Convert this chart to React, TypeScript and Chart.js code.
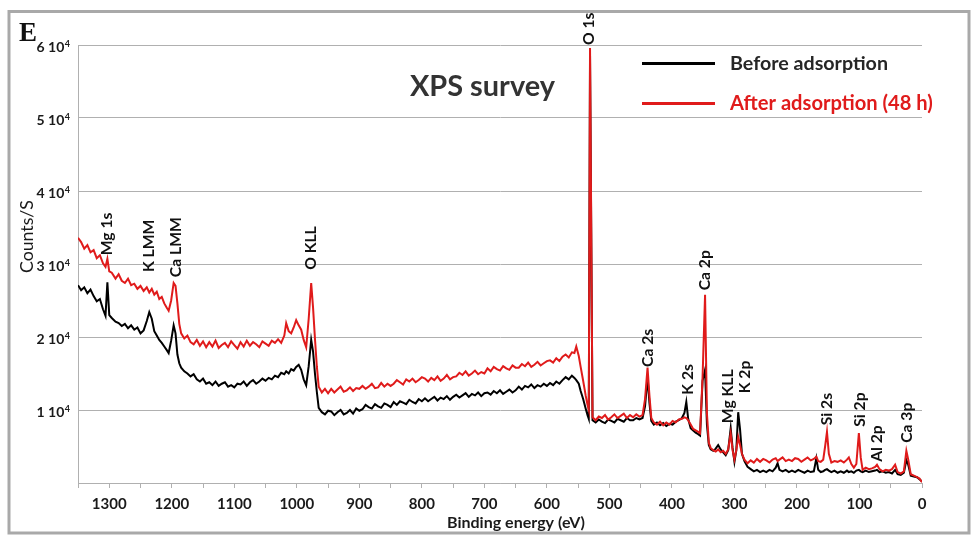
import React, { useEffect, useRef } from "react";
import { Chart, registerables } from "chart.js";

Chart.register(...registerables);

// Binding energy (eV)
const energyEV = [
  1350, 1345, 1340, 1335, 1330, 1325, 1320, 1315, 1310, 1306,
  1303, 1300, 1296, 1290, 1285, 1280, 1275, 1270, 1265, 1260,
  1255, 1250, 1245, 1240, 1236, 1232, 1228, 1224, 1220, 1216,
  1212, 1208, 1205, 1201, 1197, 1194, 1191, 1188, 1185, 1180,
  1175, 1170, 1165, 1160, 1155, 1150, 1145, 1140, 1135, 1130,
  1125, 1120, 1115, 1110, 1105, 1100, 1095, 1090, 1085, 1080,
  1075, 1070, 1065, 1060, 1055, 1050, 1045, 1040, 1035, 1030,
  1025, 1020, 1017, 1013, 1009, 1005, 1001, 997, 993, 989,
  985, 981, 977, 974, 971, 968, 965, 960, 955, 950,
  945, 940, 935, 930, 925, 920, 915, 910, 905, 900,
  895, 890, 885, 880, 875, 870, 865, 860, 855, 850,
  845, 840, 835, 830, 825, 820, 815, 810, 805, 800,
  795, 790, 785, 780, 775, 770, 765, 760, 755, 750,
  745, 740, 735, 730, 725, 720, 715, 710, 705, 700,
  695, 690, 685, 680, 675, 670, 665, 660, 655, 650,
  645, 640, 635, 630, 625, 620, 615, 610, 605, 600,
  595, 590, 585, 580, 575, 570, 565, 560, 556, 553,
  549, 546, 542, 538, 535, 533, 531, 527, 522, 517,
  512, 507, 502, 497, 492, 487, 482, 477, 472, 467,
  462, 457, 452, 447, 443, 439, 436, 433, 429, 424,
  419, 414, 409, 404, 399, 394, 389, 384, 380, 377,
  374, 370, 366, 362, 358, 355, 351, 347, 344, 341,
  338, 334, 330, 326, 322, 318, 314, 310, 306, 303,
  300, 297, 294, 291, 288, 284, 279, 274, 269, 264,
  259, 254, 249, 244, 239, 234, 231, 228, 223, 218,
  213, 208, 203, 198, 193, 188, 183, 178, 173, 169,
  166, 162, 158, 155, 152, 149, 145, 140, 135, 130,
  125, 120, 117, 113, 109, 105, 101, 98, 95, 90,
  85, 80, 75, 72, 68, 63, 58, 53, 48, 43,
  39, 34, 29, 25, 22, 18, 13, 8, 4, 0,
];

// Counts/S, in thousands — before adsorption
const beforeKCounts = [
  27.1, 26.4, 26.8, 26.0, 26.5, 25.6, 24.9, 25.2, 23.8, 22.9,
  27.5, 23.0, 22.6, 22.1, 21.9, 21.5, 21.8, 21.2, 21.6, 21.0,
  21.3, 20.5, 20.9, 22.2, 23.4, 22.5, 20.8, 20.2, 19.6, 19.2,
  18.7, 18.2, 17.8, 19.5, 21.6, 20.5, 17.6, 16.4, 15.8, 15.3,
  15.0, 14.6, 14.9, 14.2, 13.9, 14.3, 13.6, 13.8, 13.4, 13.9,
  13.3, 13.6, 13.8, 13.2, 13.4, 13.1, 13.6, 13.5, 13.9, 13.3,
  13.8, 14.1, 13.6, 13.9, 14.3, 14.0, 14.4, 14.2, 14.7, 14.5,
  15.1, 14.9, 15.3, 15.0, 15.6, 15.4, 15.9, 16.2, 15.5, 14.2,
  13.4, 16.0, 19.6, 18.0, 15.0, 12.5, 10.3, 9.7, 9.4, 9.9,
  9.8, 9.3, 9.7, 10.0, 9.4, 9.6, 10.0, 9.5, 10.2, 9.9,
  10.1, 10.7, 10.4, 10.2, 10.8, 10.5, 10.3, 10.9, 10.7, 10.4,
  11.1, 10.7, 11.2, 11.0, 10.8, 11.4, 11.1, 10.9, 11.5, 11.2,
  11.6, 11.2, 11.5, 11.8, 11.3, 11.7, 11.5, 11.9, 11.4, 11.8,
  12.1, 11.7, 12.0, 12.3, 11.8, 12.2, 12.0, 12.4, 11.9, 12.3,
  12.4, 12.1, 12.6, 12.3, 12.7, 12.2, 12.5, 12.8, 12.4, 12.7,
  13.2, 12.8, 13.3, 13.1, 13.5, 13.0, 13.4, 13.2, 13.6, 13.3,
  13.7, 13.4, 13.9, 13.6, 14.1, 14.5, 14.2, 14.7, 14.4, 14.1,
  13.6, 12.6, 11.5, 10.2, 9.3, 8.8, 58.6, 8.6, 8.3, 8.7,
  8.4, 8.2, 8.7, 8.5, 8.3, 8.8, 8.6, 8.4, 8.9, 8.6,
  8.6, 8.9, 8.7, 8.9, 10.5, 14.5, 11.0, 8.5, 8.0, 8.3,
  7.9, 8.2, 7.8, 8.1, 8.0, 8.4, 8.6, 8.9, 9.6, 11.1,
  8.8, 7.5, 7.2, 6.9, 6.7, 6.5, 14.0, 15.5, 8.0, 5.2,
  4.6, 4.4, 4.7, 5.2, 4.6, 4.2, 3.8, 4.5, 7.5, 4.8,
  2.9, 4.5, 9.7, 7.3, 4.0, 3.0, 2.2, 1.9, 1.6, 1.8,
  1.5, 1.7, 1.5, 1.8, 1.6, 2.1, 2.7, 1.8, 1.6, 1.8,
  1.5, 1.7, 1.5, 1.8, 1.6, 1.4, 1.7, 1.5, 1.6, 3.4,
  1.8, 1.5, 1.6, 1.8, 1.9, 1.7, 1.5, 1.7, 1.4, 1.6,
  1.4, 1.7, 1.5, 1.6, 1.4, 1.7, 1.8, 1.6, 1.5, 1.7,
  1.5, 1.6, 1.7, 1.8, 1.5, 1.6, 1.4, 1.5, 1.3, 1.8,
  1.2, 1.1, 1.4, 3.15, 2.5, 1.0, 0.9, 0.8, 0.5, 0.2,
];

// Counts/S, in thousands — after adsorption (48 h)
const afterKCounts = [
  33.6, 33.0, 32.1, 32.6, 31.6, 31.9, 30.8, 31.2, 30.1, 29.6,
  30.7, 29.0, 28.8, 28.0, 28.6, 27.7, 27.4, 28.0, 27.1, 27.3,
  26.6, 27.0, 26.3, 26.8, 26.1, 26.6, 25.8, 26.2, 25.2, 25.5,
  24.6, 24.0, 23.6, 25.0, 27.4, 27.0, 24.6, 21.8, 20.5, 19.8,
  20.2, 19.3, 19.0, 19.6, 18.8, 19.4, 18.6, 19.3, 18.7, 19.5,
  18.5, 18.9, 19.2, 18.6, 19.4, 18.9, 18.4, 19.3, 18.7, 19.5,
  18.8, 19.3, 19.0, 18.6, 19.4, 19.1, 18.8, 19.5, 19.2, 19.7,
  19.2, 20.2, 21.9, 20.8, 20.5, 21.3, 22.3, 21.6, 21.0, 19.6,
  18.6, 22.5, 27.4, 24.0, 19.8, 16.0, 13.2, 12.4, 12.9, 12.3,
  12.9, 12.4, 12.8, 13.2, 12.5, 12.7, 13.1, 12.6, 13.0, 12.9,
  13.3, 12.9, 13.2, 13.6, 13.0, 13.1, 13.7, 13.2, 13.6, 13.3,
  13.6, 14.1, 13.8, 13.5, 14.2, 13.9, 14.3, 13.8, 14.1, 14.5,
  14.3, 13.9, 14.4, 14.1, 14.6, 14.0, 14.3, 14.8, 14.2, 14.5,
  14.6, 15.1, 14.8, 15.3, 14.7, 15.0, 15.4, 14.9, 15.2, 15.0,
  15.7, 15.3, 15.9, 15.6, 15.4, 16.0, 15.7, 15.5, 16.1, 15.8,
  15.8, 16.3, 16.0, 16.5, 15.9, 16.2, 16.6, 16.1, 16.4, 16.7,
  16.8, 16.5, 17.1, 16.7, 17.3, 17.6, 17.2, 17.9, 17.8, 18.7,
  17.4, 15.9, 14.0, 12.0, 10.7, 10.0, 59.6, 9.0, 8.6, 9.1,
  8.9, 9.3, 8.7, 9.0, 9.4, 8.9, 9.2, 9.5, 8.9, 9.3,
  9.0, 9.4, 9.1, 9.3, 11.5, 15.8, 12.0, 8.9, 8.3, 8.0,
  8.4, 7.9, 8.3, 8.0, 8.5, 8.3, 8.7, 8.8, 9.0, 8.9,
  8.6, 8.0, 7.4, 7.2, 7.0, 6.8, 14.5, 25.8, 9.5, 5.5,
  4.8, 4.5, 4.3, 4.6, 4.2, 4.4, 4.0, 4.6, 6.8, 4.5,
  3.2, 4.5, 6.3, 5.2, 4.0, 3.2, 2.7, 3.1, 2.8, 3.3,
  2.9, 3.3, 3.1, 2.8, 3.2, 3.4, 3.0, 3.2, 3.5, 3.0,
  3.2, 3.0, 3.4, 3.3, 2.9, 3.2, 3.5, 3.1, 3.3, 3.6,
  3.0, 2.9, 3.2, 5.0, 7.0, 4.0, 2.8, 3.0, 2.9, 3.1,
  2.8, 3.2, 3.5, 2.6, 2.1, 2.6, 6.85, 3.5, 1.8, 2.1,
  1.9, 2.0, 2.2, 2.5, 1.9, 1.6, 1.8, 1.7, 1.9, 2.5,
  1.5, 1.3, 1.6, 4.4, 3.2, 1.2, 1.0, 0.8, 0.6, 0.1,
];

const seriesNames = ["Before adsorption", "After adsorption (48 h)"];
const yTickValues = [10, 20, 30, 40, 50, 60]; // thousands → "n 10^4"

// Peak annotations: name, energy (eV), level (k counts) where the label starts
const peakNames = ["Mg 1s", "K LMM", "Ca LMM", "O KLL", "O 1s", "Ca 2s", "K 2s", "Ca 2p", "Mg KLL", "K 2p", "Si 2s", "Si 2p", "Al 2p", "Ca 3p"];
const peakEV = [1303, 1236, 1194, 977, 533, 438, 375, 347, 311, 283, 152, 99, 72, 24];
const peakLabelK = [31.2, 28.9, 28.2, 29.2, 60.0, 15.9, 12.1, 26.4, 8.2, 12.3, 7.9, 7.7, 2.9, 5.5];

const FONT = "Lato, 'Open Sans', sans-serif";
const RED = "#e01b1b";
const GRID = "#b0b0b0";

function fitFont(ctx: CanvasRenderingContext2D, text: string, width: number, weight: string) {
  ctx.font = `${weight} 100px ${FONT}`;
  const w = ctx.measureText(text).width;
  const size = (100 * width) / w;
  ctx.font = `${weight} ${size.toFixed(2)}px ${FONT}`;
  return size;
}

export default function App() {
  const ref = useRef<HTMLCanvasElement>(null);

  useEffect(() => {
    const canvas = ref.current!;
    const decor = {
      id: "decor",
      afterDraw(chart: any) {
        const { ctx } = chart;
        const xs = chart.scales.x;
        const ys = chart.scales.y;
        ctx.save();

        // frame
        ctx.strokeStyle = "#a9a9a9";
        ctx.lineWidth = 3;
        ctx.strokeRect(9, 11.5, 960, 521.5);

        // panel letter
        ctx.fillStyle = "#111";
        ctx.font = "bold 27px 'Liberation Serif', serif";
        ctx.textAlign = "left";
        ctx.textBaseline = "alphabetic";
        ctx.fillText("E", 19, 41);

        // y tick labels "n 10^4"
        for (const v of yTickValues) {
          const py = ys.getPixelForValue(v);
          ctx.fillStyle = "#1a1a1a";
          ctx.font = `bold 9px ${FONT}`;
          const supW = ctx.measureText("4").width;
          ctx.textAlign = "left";
          ctx.textBaseline = "alphabetic";
          ctx.fillText("4", 70 - supW, py + 1.5);
          ctx.font = `bold 14px ${FONT}`;
          ctx.textAlign = "right";
          ctx.textBaseline = "middle";
          ctx.fillText(`${v / 10} 10`, 70 - supW - 0.5, py + 2);
        }

        // axis titles
        ctx.fillStyle = "#1a1a1a";
        fitFont(ctx, "Binding energy (eV)", 138, "bold");
        ctx.textAlign = "left";
        ctx.textBaseline = "alphabetic";
        ctx.fillText("Binding energy (eV)", 447, 528);

        ctx.save();
        ctx.translate(27, 273);
        ctx.rotate(-Math.PI / 2);
        fitFont(ctx, "Counts/S", 73, "normal");
        ctx.textAlign = "left";
        ctx.textBaseline = "middle";
        ctx.fillText("Counts/S", 0, 0);
        ctx.restore();

        // title
        ctx.fillStyle = "#333";
        fitFont(ctx, "XPS survey", 145, "bold");
        ctx.textAlign = "left";
        ctx.textBaseline = "alphabetic";
        ctx.fillText("XPS survey", 410, 96);

        // legend
        ctx.lineWidth = 3;
        ctx.strokeStyle = "#000";
        ctx.beginPath();
        ctx.moveTo(642, 63.5);
        ctx.lineTo(715, 63.5);
        ctx.stroke();
        ctx.strokeStyle = RED;
        ctx.beginPath();
        ctx.moveTo(642, 103.5);
        ctx.lineTo(715, 103.5);
        ctx.stroke();
        ctx.fillStyle = "#262626";
        fitFont(ctx, seriesNames[0], 158, "bold");
        ctx.fillText(seriesNames[0], 730, 70);
        ctx.fillStyle = RED;
        fitFont(ctx, seriesNames[1], 203, "bold");
        ctx.fillText(seriesNames[1], 730, 110);

        // peak labels
        ctx.fillStyle = "#111";
        const peakSize = fitFont(ctx, "Ca LMM", 60, "bold");
        peakNames.forEach((name, i) => {
          const px = xs.getPixelForValue(peakEV[i]);
          const py = ys.getPixelForValue(peakLabelK[i]);
          ctx.save();
          ctx.translate(px, py);
          ctx.rotate(-Math.PI / 2);
          ctx.font = `bold ${peakSize.toFixed(2)}px ${FONT}`;
          ctx.textAlign = "left";
          ctx.textBaseline = "middle";
          ctx.fillText(name, 0, 0);
          ctx.restore();
        });

        ctx.restore();
      },
    };

    const chart = new Chart(canvas, {
      type: "line",
      data: {
        datasets: [
          {
            label: seriesNames[0],
            data: energyEV.map((e, i) => ({ x: e, y: beforeKCounts[i] })),
            borderColor: "#000",
            borderWidth: 2,
            pointRadius: 0,
            tension: 0,
            order: 1,
          },
          {
            label: seriesNames[1],
            data: energyEV.map((e, i) => ({ x: e, y: afterKCounts[i] })),
            borderColor: RED,
            borderWidth: 2,
            pointRadius: 0,
            tension: 0,
            order: 0,
          },
        ],
      },
      options: {
        responsive: false,
        animation: false,
        devicePixelRatio: 1,
        layout: { padding: { left: 8, top: 45, right: 52, bottom: 0 } },
        plugins: { legend: { display: false }, tooltip: { enabled: false } },
        scales: {
          x: {
            type: "linear",
            reverse: true,
            min: 0,
            max: 1350,
            afterFit: (s: any) => {
              s.height = 52;
            },
            ticks: {
              stepSize: 50,
              autoSkip: false,
              maxRotation: 0,
              padding: 7,
              color: "#1a1a1a",
              font: { family: FONT, weight: "bold", size: 15 },
              callback: (v: any) => (Number(v) % 100 === 0 ? String(v) : ""),
            },
            grid: { drawOnChartArea: false, drawTicks: true, tickLength: 5, color: GRID },
            border: { color: GRID },
          },
          y: {
            min: 0,
            max: 60,
            afterFit: (s: any) => {
              s.width = 70;
            },
            ticks: { stepSize: 10, display: false },
            grid: { color: GRID, drawTicks: false },
            border: { color: GRID },
          },
        },
      },
      plugins: [decor],
    });
    return () => chart.destroy();
  }, []);

  return (
    <div style={{ position: "absolute", left: 0, top: 0, width: 974, height: 535, background: "#fff" }}>
      <canvas ref={ref} width={974} height={535} style={{ display: "block" }} />
    </div>
  );
}
